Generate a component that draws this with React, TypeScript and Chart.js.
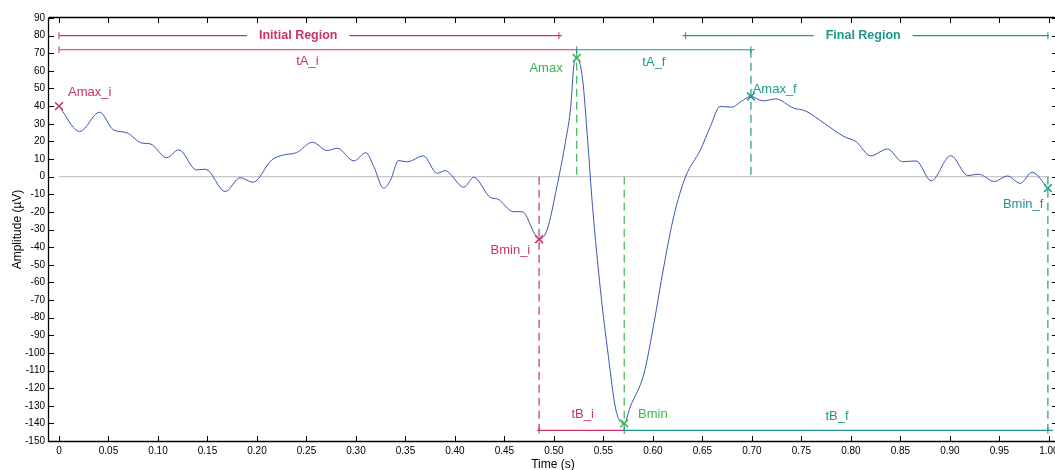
import React, { useEffect, useRef } from 'react';
import { Chart, registerables } from 'chart.js';

Chart.register(...registerables);

// ---- Waveform ----
const timeS = [
  0.0, 0.021, 0.041, 0.055, 0.068, 0.084, 0.092, 0.109, 0.121, 0.139, 0.148, 0.168, 0.183, 0.196,
  0.215, 0.227, 0.24, 0.256, 0.271, 0.281, 0.298, 0.31, 0.318, 0.328, 0.335, 0.343, 0.352, 0.368,
  0.382, 0.39, 0.409, 0.419, 0.436, 0.443, 0.459, 0.468, 0.481, 0.485, 0.493, 0.503, 0.512, 0.517,
  0.52, 0.523, 0.529, 0.534, 0.539, 0.547, 0.555, 0.562, 0.567, 0.571, 0.577, 0.591, 0.601, 0.611,
  0.621, 0.633, 0.648, 0.658, 0.668, 0.68, 0.689, 0.699, 0.711, 0.724, 0.742, 0.754, 0.773, 0.793,
  0.805, 0.82, 0.837, 0.852, 0.866, 0.881, 0.901, 0.918, 0.929, 0.945, 0.958, 0.971, 0.983, 0.999,
];
const amplitudeUV = [
  40, 25.6, 36.6, 26.5, 25, 19, 18.6, 10.8, 15.2, 3.8, 4.2, -8.5, -0.6, -3.2,
  9.5, 12.3, 13.6, 19.5, 14.8, 16.1, 8.9, 13.6, 5.7, -6.6, -1.9, 9.1, 8.4, 11.8,
  1.9, 3.4, -6, -0.4, -11.9, -12.7, -19.9, -19.9, -33, -35.5, -30.3, -5.7, 20.9, 39.8,
  62.5, 67.3, 55, 20.9, -17, -64.4, -102, -130.7, -139, -140, -130.7, -111.7, -83.3, -51,
  -22.7, 0, 15.2, 28.4, 39.8, 39.4, 42.6, 45.5, 43, 44.1, 38.9, 37.3, 30.3, 22.7,
  19.9, 11.8, 15.7, 8.5, 8.9, -2.4, 11.9, 0.6, 1.4, -2.8, 0.4, -3.8, 2.5, -6.5,
];

// ---- Axis ticks ----
const xTickLabels = ['0', '0.05', '0.10', '0.15', '0.20', '0.25', '0.30', '0.35', '0.40', '0.45', '0.50',
  '0.55', '0.60', '0.65', '0.70', '0.75', '0.80', '0.85', '0.90', '0.95', '1.00'];
const yMin = -150;
const yMax = 90;
const yStep = 10;
const xMin = -0.0101;
const xMax = 1.0081;

// ---- Feature markers ----
const markerLabels = ['Amax_i', 'Bmin_i', 'Amax', 'Bmin', 'Amax_f', 'Bmin_f'];
const markerTimes = [0, 0.485, 0.523, 0.571, 0.699, 0.999];
const markerAmps = [40, -35.5, 67.3, -140, 45.5, -6.5];
const markerGroup = ['i', 'i', 'p', 'p', 'f', 'f'];
const markerLabelTimes = [0.031, 0.456, 0.492, 0.6, 0.723, 0.974];
const markerLabelAmps = [48, -42, 61.6, -134.8, 49.3, -16];

// ---- Horizontal spans ----
const spanLabels = ['Initial Region', 'Final Region', 'tA_i', 'tA_f', 'tB_i', 'tB_f'];
const spanStart = [0, 0.63, 0, 0.523, 0.483, 0.571];
const spanEnd = [0.508, 1.0, 0.523, 0.703, 0.571, 1.004];
const spanLevel = [80, 80, 72, 72, -144, -144];
const spanGroup = ['i', 'f', 'i', 'f', 'i', 'f'];
const spanTickTimes = [[0, 0.505], [0.633, 0.999], [0], [0.523, 0.699], [0.485], [0.571, 0.999]];
const spanLabelTimes = [0.2417, 0.8124, 0.251, 0.601, 0.529, 0.786];
const spanLabelAmps = [80, 80, 65.3, 65, -135, -136];
const spanIsRegion = [true, true, false, false, false, false];

// ---- Vertical dashed guides ----
const guideTimes = [0.485, 0.523, 0.571, 0.699, 0.999];
const guideFrom = [0, 72, 0, 72, 0];
const guideTo = [-144, 0, -144, 0, -144];
const guideGroup = ['i', 'p', 'p', 'f', 'f'];

// ---- Styles ----
const COLORS: Record<string, string> = { i: '#c8336a', p: '#3db552', f: '#1f978c' };
const CURVE = '#3a55b4';
const FONT = '"Liberation Sans", Arial, Helvetica, sans-serif';

const framePlugin = {
  id: 'frameAndText',
  afterDraw(chart: any) {
    const { ctx, chartArea } = chart;
    const { left, right, top, bottom } = chartArea;
    const xs = chart.scales.x;
    const ys = chart.scales.y;
    ctx.save();
    // region labels with white gap
    spanLabels.forEach((txt, k) => {
      const px = xs.getPixelForValue(spanLabelTimes[k]);
      const py = ys.getPixelForValue(spanLabelAmps[k]);
      ctx.font = spanIsRegion[k] ? `bold 12.5px ${FONT}` : `13px ${FONT}`;
      ctx.textAlign = 'center';
      ctx.textBaseline = 'middle';
      if (spanIsRegion[k]) {
        const w = ctx.measureText(txt).width + 24;
        ctx.fillStyle = '#ffffff';
        ctx.fillRect(px - w / 2, py - 3, w, 6);
      }
      ctx.fillStyle = COLORS[spanGroup[k]];
      ctx.fillText(txt, px, py);
    });
    markerLabels.forEach((txt, k) => {
      const px = xs.getPixelForValue(markerLabelTimes[k]);
      const py = ys.getPixelForValue(markerLabelAmps[k]);
      ctx.font = `13px ${FONT}`;
      ctx.textAlign = 'center';
      ctx.textBaseline = 'middle';
      ctx.fillStyle = COLORS[markerGroup[k]];
      ctx.fillText(txt, px, py);
    });
    // frame
    ctx.strokeStyle = '#000';
    ctx.lineWidth = 1.3;
    ctx.beginPath();
    ctx.moveTo(left - 0.5, top);
    ctx.lineTo(left - 0.5, bottom + 0.5);
    ctx.lineTo(right, bottom + 0.5);
    ctx.moveTo(left - 0.5, top - 0.5);
    ctx.lineTo(right, top - 0.5);
    ctx.lineTo(right, bottom);
    ctx.stroke();
    ctx.lineWidth = 1;
    const tl = 5;
    ctx.beginPath();
    xs.ticks.forEach((t: any) => {
      const px = Math.round(xs.getPixelForValue(t.value)) + 0.5;
      ctx.moveTo(px, bottom);
      ctx.lineTo(px, bottom - tl);
      ctx.moveTo(px, top);
      ctx.lineTo(px, top + tl);
    });
    ys.ticks.forEach((t: any) => {
      const py = Math.round(ys.getPixelForValue(t.value)) + 0.5;
      ctx.moveTo(left, py);
      ctx.lineTo(left + tl, py);
      ctx.moveTo(right, py);
      ctx.lineTo(right - tl, py);
    });
    ctx.stroke();
    ctx.restore();
  },
};

export default function App() {
  const ref = useRef<HTMLCanvasElement>(null);
  useEffect(() => {
    document.body.style.margin = '0';
    document.body.style.overflow = 'hidden';
    const datasets: any[] = [];
    // markers (top)
    datasets.push({
      data: markerTimes.map((t, k) => ({ x: t, y: markerAmps[k] })),
      showLine: false,
      pointStyle: 'crossRot',
      pointRadius: 5.5,
      pointBorderWidth: 1.6,
      pointBorderColor: markerGroup.map((g) => COLORS[g]),
      pointBackgroundColor: 'transparent',
    });
    // span end ticks
    const tickPts: any[] = [];
    const tickCols: string[] = [];
    spanTickTimes.forEach((arr, k) => arr.forEach((t) => {
      tickPts.push({ x: t, y: spanLevel[k] });
      tickCols.push(COLORS[spanGroup[k]]);
    }));
    datasets.push({
      data: tickPts,
      showLine: false,
      pointStyle: 'line',
      pointRotation: 90,
      pointRadius: 3.5,
      pointBorderWidth: 1,
      pointBorderColor: tickCols,
    });
    // curve
    datasets.push({
      data: timeS.map((t, k) => ({ x: t, y: amplitudeUV[k] })),
      borderColor: CURVE,
      borderWidth: 1,
      pointRadius: 0,
      cubicInterpolationMode: 'monotone',
    });
    // spans
    spanStart.forEach((s, k) => {
      datasets.push({
        data: [{ x: s, y: spanLevel[k] }, { x: spanEnd[k], y: spanLevel[k] }],
        borderColor: COLORS[spanGroup[k]],
        borderWidth: 1.2,
        pointRadius: 0,
      });
    });
    // guides
    guideTimes.forEach((t, k) => {
      datasets.push({
        data: [{ x: t, y: guideFrom[k] }, { x: t, y: guideTo[k] }],
        borderColor: COLORS[guideGroup[k]],
        borderWidth: 1.2,
        borderDash: [8, 5],
        pointRadius: 0,
      });
    });
    // zero line (bottom)
    datasets.push({
      data: [{ x: 0, y: 0 }, { x: 1, y: 0 }],
      borderColor: '#c8c8c8',
      borderWidth: 1.2,
      pointRadius: 0,
    });

    Chart.defaults.font.family = FONT;
    const chart = new Chart(ref.current!, {
      type: 'line',
      data: { datasets },
      options: {
        responsive: false,
        animation: false,
        events: [],
        layout: { padding: { top: 18, left: 0, right: 4, bottom: 0 } },
        plugins: { legend: { display: false }, tooltip: { enabled: false } },
        scales: {
          x: {
            type: 'linear',
            min: xMin,
            max: xMax,
            grid: { display: false, drawTicks: false },
            border: { display: false },
            afterBuildTicks: (scale: any) => {
              scale.ticks = xTickLabels.map((l) => ({ value: parseFloat(l) }));
            },
            afterFit: (scale: any) => {
              scale.height = 29;
            },
            ticks: {
              autoSkip: false,
              maxRotation: 0,
              padding: 4,
              color: '#000',
              font: { size: 10 },
              callback: (_v: any, i: number) => xTickLabels[i],
            },
            title: {
              display: true,
              text: 'Time (s)',
              color: '#000',
              font: { size: 12 },
              padding: { top: 0, bottom: -2 },
            },
          },
          y: {
            type: 'linear',
            min: yMin,
            max: yMax,
            grid: { display: false, drawTicks: false },
            border: { display: false },
            afterFit: (scale: any) => {
              scale.width = 49;
            },
            ticks: {
              stepSize: yStep,
              autoSkip: false,
              padding: 4,
              color: '#000',
              font: { size: 10 },
            },
            title: {
              display: true,
              text: 'Amplitude (µV)',
              color: '#000',
              font: { size: 12 },
              padding: { top: 10, bottom: 0 },
            },
          },
        },
      } as any,
      plugins: [framePlugin],
    });
    return () => chart.destroy();
  }, []);
  return (
    <div style={{ width: 1055, height: 470, overflow: 'hidden' }}>
      <canvas ref={ref} width={1064} height={470} style={{ display: 'block' }} />
    </div>
  );
}
